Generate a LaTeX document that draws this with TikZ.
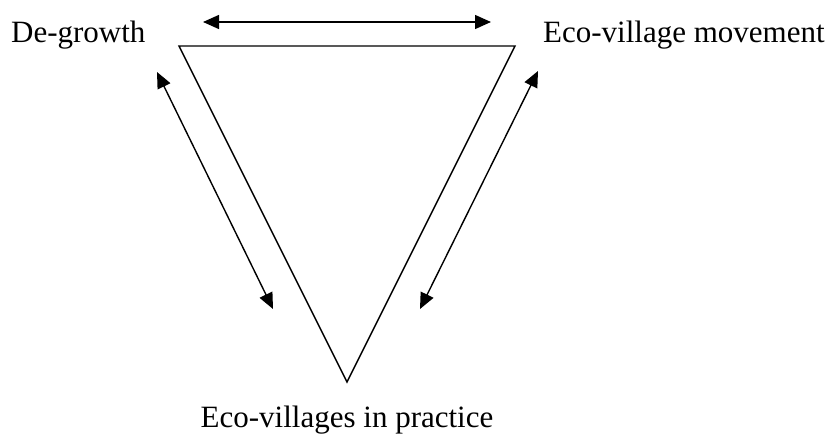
\documentclass[tikz,border=0pt]{standalone}
\usepackage{fontspec}
\setmainfont{Liberation Serif}
\usetikzlibrary{arrows.meta}
\begin{document}
\begin{tikzpicture}[x=1pt,y=-1pt,
  lbl/.style={font=\fontsize{31}{37}\selectfont, inner sep=0pt},
  tri/.style={line width=1.4pt, line join=miter},
  dbl/.style={line width=1.4pt, {Triangle[length=16pt,width=14pt]}-{Triangle[length=16pt,width=14pt]}}]
\useasboundingbox (0,0) rectangle (838,436);
\node[lbl, anchor=base west] (dg) at (11,43) {De-growth};
\node[lbl, anchor=base west] (em) at (543,43) {Eco-village movement};
\node[lbl, anchor=base] (ep) at (347,427) {Eco-villages in practice};
\coordinate (tl) at (179,46);
\coordinate (tr) at (515,46);
\coordinate (bt) at (347,382);
\draw[tri] (tl) -- (tr) -- (bt) -- cycle;
\coordinate (a1) at (203,22);
\coordinate (a2) at (491,22);
\coordinate (b1) at (157,72);
\coordinate (b2) at (273,309);
\coordinate (c1) at (538,71);
\coordinate (c2) at (420,309);
\draw[dbl] (a1) -- (a2);
\draw[dbl] (b1) -- (b2);
\draw[dbl] (c1) -- (c2);
\end{tikzpicture}
\end{document}
